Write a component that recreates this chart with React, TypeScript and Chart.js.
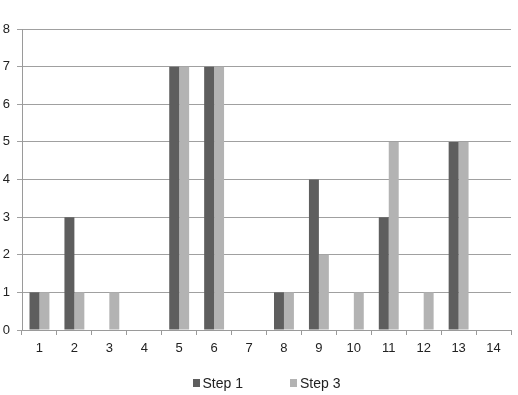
import { useEffect, useRef } from "react";
import { Chart, registerables } from "chart.js";

Chart.register(...registerables);

const categories = ["1", "2", "3", "4", "5", "6", "7", "8", "9", "10", "11", "12", "13", "14"];
const step1Values = [1, 3, 0, 0, 7, 7, 0, 1, 4, 0, 3, 0, 5, 0];
const step3Values = [1, 1, 1, 0, 7, 7, 0, 1, 2, 1, 5, 1, 5, 0];
const seriesNames = ["Step 1", "Step 3"];
const seriesColors = ["#5e5e5e", "#b3b3b3"];
const yMin = 0;
const yMax = 8;
const yStep = 1;

const FONT = "'Liberation Sans', Arial, sans-serif";

const bottomLegend = {
  id: "bottomLegend",
  afterDraw(chart: any) {
    const ctx = chart.ctx as CanvasRenderingContext2D;
    const area = chart.chartArea;
    const datasets = chart.data.datasets;
    ctx.save();
    ctx.font = `14px ${FONT}`;
    ctx.textBaseline = "middle";
    const box = 7;
    const gapBoxText = 3;
    const gapItems = 47;
    const widths = datasets.map((d: any) => box + gapBoxText + ctx.measureText(d.label).width);
    const total = widths.reduce((a: number, b: number) => a + b, 0) + gapItems * (datasets.length - 1);
    let x = (area.left + area.right) / 2 - total / 2;
    const y = 383;
    datasets.forEach((d: any, i: number) => {
      ctx.fillStyle = d.backgroundColor;
      ctx.fillRect(Math.round(x), y - 4, box, box + 1);
      ctx.fillStyle = "#222";
      ctx.fillText(d.label, x + box + gapBoxText, y + 1);
      x += widths[i] + gapItems;
    });
    ctx.restore();
  },
};

export default function App() {
  const ref = useRef<HTMLCanvasElement | null>(null);

  useEffect(() => {
    document.body.style.margin = "0";
    const canvas = ref.current;
    if (!canvas) return;
    const chart = new Chart(canvas, {
      type: "bar",
      data: {
        labels: categories,
        datasets: [
          { label: seriesNames[0], data: step1Values, backgroundColor: seriesColors[0], borderWidth: 0 },
          { label: seriesNames[1], data: step3Values, backgroundColor: seriesColors[1], borderWidth: 0 },
        ],
      },
      options: {
        responsive: false,
        animation: false,
        maintainAspectRatio: false,
        layout: { padding: { top: 29, left: 0, right: 7, bottom: 0 } },
        datasets: { bar: { categoryPercentage: 0.57, barPercentage: 1 } },
        plugins: {
          legend: { display: false },
          tooltip: { enabled: false },
        },
        scales: {
          x: {
            offset: true,
            grid: {
              display: true,
              drawOnChartArea: false,
              offset: true,
              tickLength: 5,
              color: "#9a9a9a",
            },
            border: { color: "#9a9a9a", width: 1 },
            ticks: { color: "#222", font: { family: FONT, size: 13 }, padding: 6, maxRotation: 0 },
            afterFit: (s: any) => {
              s.height = 65;
            },
          },
          y: {
            min: yMin,
            max: yMax,
            grid: { color: "#a0a0a0", tickLength: 5 },
            border: { color: "#9a9a9a", width: 1 },
            ticks: { stepSize: yStep, color: "#222", font: { family: FONT, size: 13 }, padding: 7 },
            afterFit: (s: any) => {
              s.width = 22;
            },
          },
        },
      },
      plugins: [bottomLegend],
    });
    return () => chart.destroy();
  }, []);

  return (
    <div style={{ width: 518, height: 395, background: "#fff" }}>
      <canvas ref={ref} width={518} height={395} style={{ display: "block" }} />
    </div>
  );
}
